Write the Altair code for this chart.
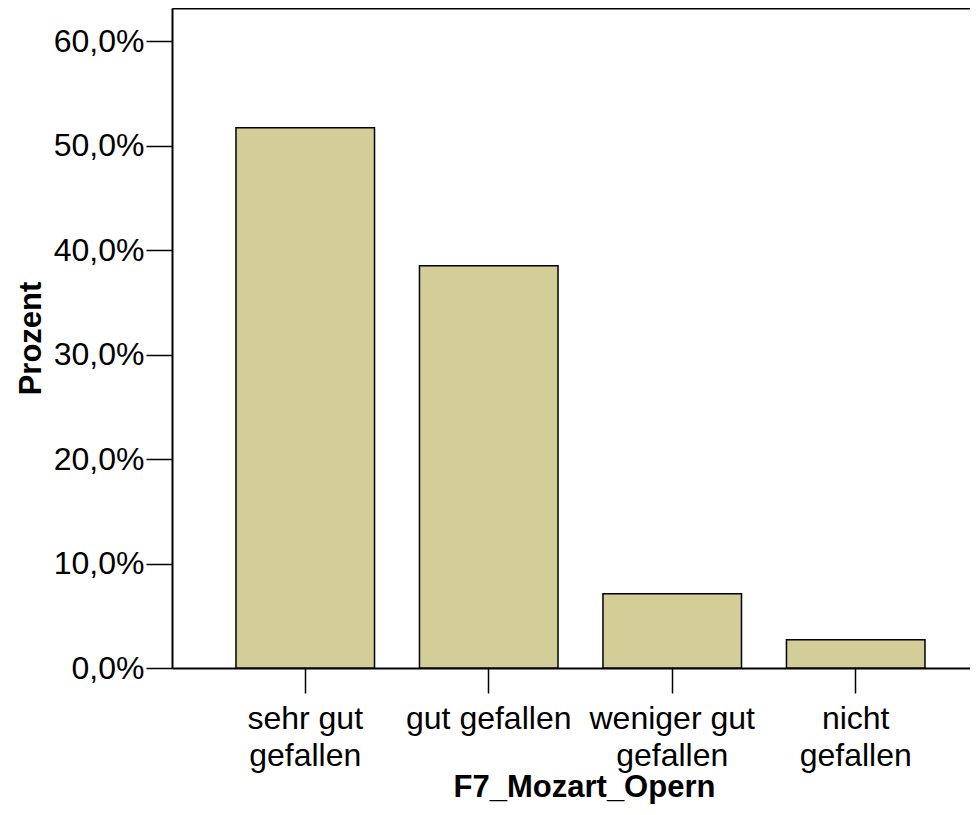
import altair as alt
import pandas as pd

categories = ["sehr gut gefallen", "gut gefallen", "weniger gut gefallen", "nicht gefallen"]
label_lines = [["sehr gut", "gefallen"], ["gut gefallen"], ["weniger gut", "gefallen"], ["nicht", "gefallen"]]
percent = [51.7, 38.5, 7.1, 2.7]
y_ticks = [0, 10, 20, 30, 40, 50, 60]

df = pd.DataFrame({"kat": categories, "prozent": percent})

parts = []
for c, lines in zip(categories, label_lines):
    arr = "[" + ",".join("'" + s + "'" for s in lines) + "]"
    parts.append(f"datum.value == '{c}' ? {arr} : ")
x_label_expr = "".join(parts) + "datum.label"

FONT = "Liberation Sans"

x_scale = alt.Scale(domain=categories, paddingInner=0.245, paddingOuter=0.297, align=0.587)
y_scale = alt.Scale(domain=[0, 63.16], nice=False, zero=True)

bars = alt.Chart(df).mark_bar(
    color="#D3CE97", stroke="black", strokeWidth=1.5
).encode(
    x=alt.X("kat:N", sort=categories, scale=x_scale,
            axis=alt.Axis(
                title="F7_Mozart_Opern", labelAngle=0, labelExpr=x_label_expr,
                labelFont=FONT, labelFontSize=32, labelColor="black", labelLineHeight=37,
                labelPadding=10, tickSize=25, tickWidth=1.5, tickColor="black",
                domainColor="black", domainWidth=2,
                titleFont=FONT, titleFontSize=31, titleFontWeight="bold", titleColor="black",
                titleX=412, titleY=128, titleAlign="center", titleBaseline="alphabetic",
                labelLimit=400)),
    y=alt.Y("prozent:Q", scale=y_scale,
            axis=alt.Axis(
                title="Prozent", values=y_ticks, grid=False,
                labelExpr="replace(format(datum.value, '.1f'), '.', ',') + '%'",
                labelFont=FONT, labelFontSize=32, labelColor="black", labelPadding=2,
                tickSize=26, tickWidth=1.5, tickColor="black",
                domainColor="black", domainWidth=2,
                titleFont=FONT, titleFontSize=31, titleFontWeight="bold", titleColor="black",
                titleAngle=-90, titleX=-132, titleY=330, titleAlign="center",
                titleBaseline="alphabetic")),
)

frame_top = alt.Chart(df).mark_bar(opacity=0).encode(
    x=alt.X("kat:N", sort=categories, scale=x_scale,
            axis=alt.Axis(orient="top", title=None, labels=False, ticks=False,
                          domainColor="black", domainWidth=2)),
    y=alt.Y("prozent:Q", scale=y_scale,
            axis=alt.Axis(orient="right", title=None, labels=False, ticks=False,
                          grid=False, domain=False)),
)

chart = alt.layer(bars, frame_top).resolve_axis(x="independent", y="independent").properties(
    width=798, height=660,
    autosize=alt.AutoSizeParams(type="none"),
    padding={"left": 164, "top": 0, "right": 0, "bottom": 137},
).configure_view(stroke=None).configure(background="white")

chart.save("out.html", embed_options={"renderer": "svg", "actions": False})
